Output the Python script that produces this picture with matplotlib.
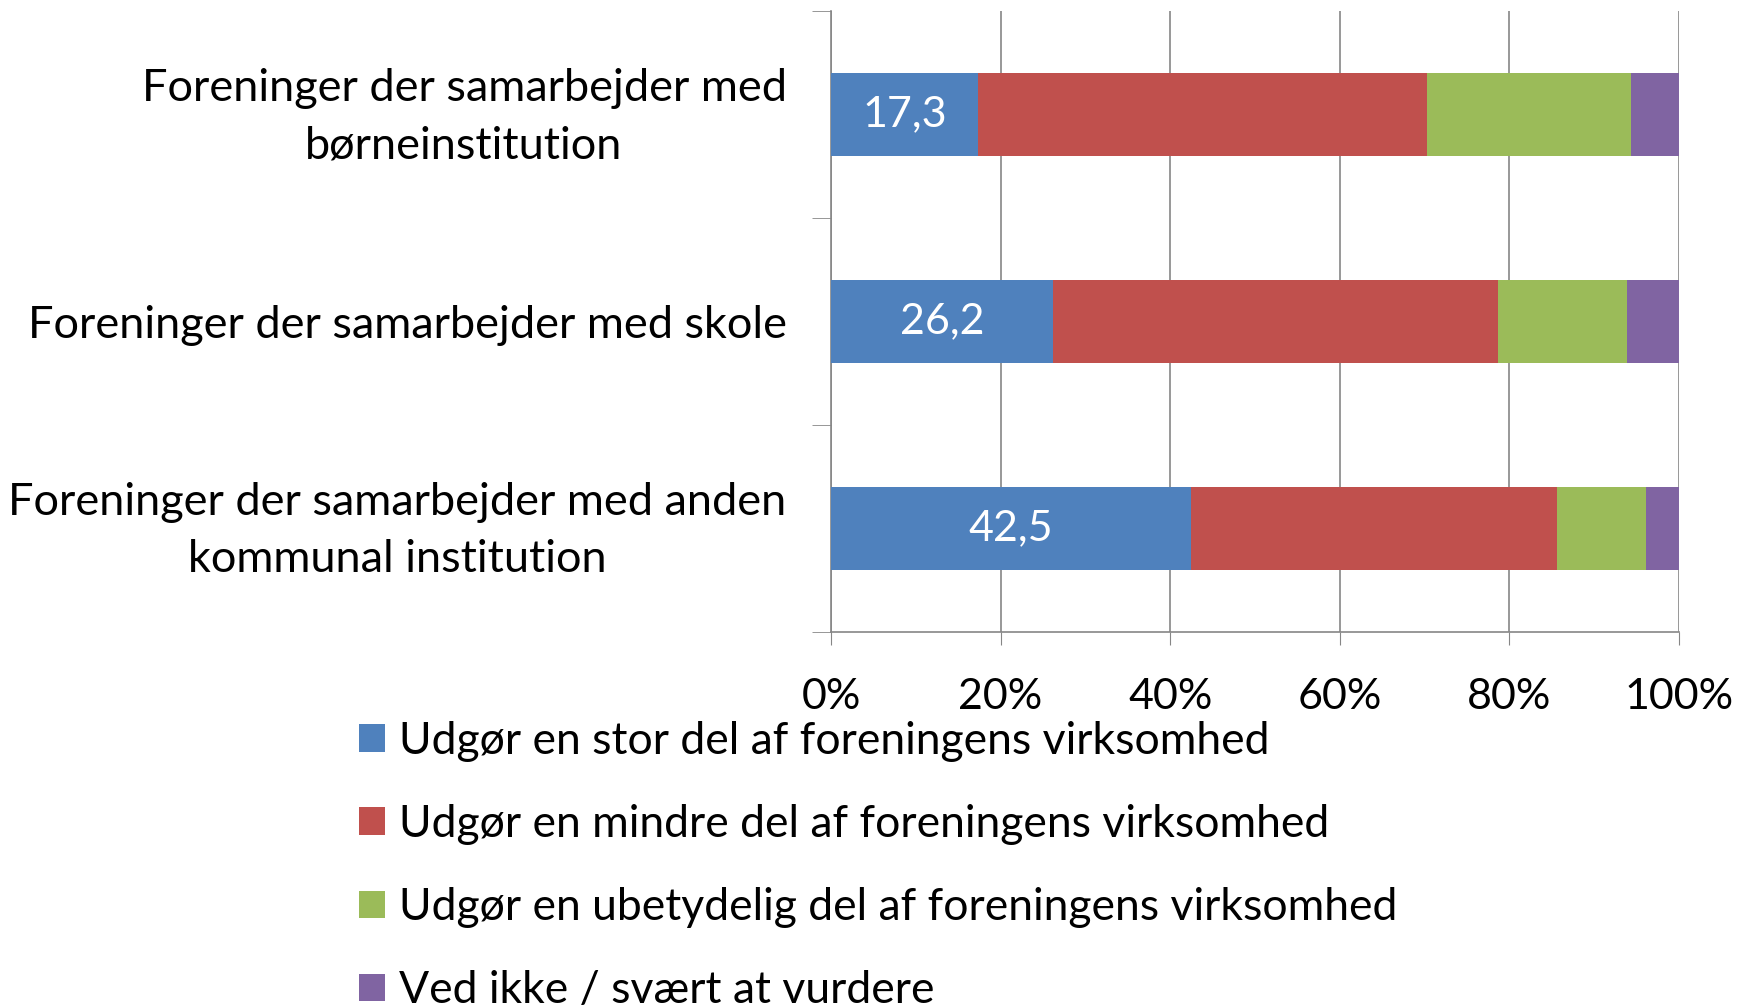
import matplotlib
matplotlib.use('Agg')
import matplotlib.pyplot as plt
from matplotlib.transforms import ScaledTranslation
import numpy as np

plt.rcParams['font.family'] = ['Lato', 'DejaVu Sans']

categories = ['Foreninger der samarbejder med\nbørneinstitution',
              'Foreninger der samarbejder med skole',
              'Foreninger der samarbejder med anden\nkommunal institution']
series = ['Udgør en stor del af foreningens virksomhed',
          'Udgør en mindre del af foreningens virksomhed',
          'Udgør en ubetydelig del af foreningens virksomhed',
          'Ved ikke / svært at vurdere']
stor = [17.3, 26.2, 42.5]
mindre = [53.0, 52.5, 43.1]
ubetydelig = [24.1, 15.2, 10.5]
ved_ikke = [5.6, 6.1, 3.9]
colors = ['#4F81BD', '#C0504D', '#9BBB59', '#8064A2']
xticks = [0, 20, 40, 60, 80, 100]

GRAY = '#868686'
FS = 32.5

fig = plt.figure(figsize=(17.52, 10.07), dpi=100)
ax = fig.add_axes([0.4743, 0.3724, 0.484, 0.6167])

y = np.arange(len(categories))
left = np.zeros(len(categories))
for vals, col, lab in zip([stor, mindre, ubetydelig, ved_ikke], colors, series):
  ax.barh(y, vals, left=left, height=0.4, color=col, label=lab, zorder=3)
  left += np.array(vals)

for yi, v in zip(y, stor):
  ax.text(v / 2, yi, f'{v:.1f}'.replace('.', ','), ha='center', va='center',
          color='white', fontsize=31, zorder=4)

ax.set_xlim(0, 100)
ax.set_ylim(2.5, -0.5)
ax.set_xticks(xticks)
ax.set_xticklabels([f'{t}%' for t in xticks], fontsize=31)
ax.tick_params(axis='x', direction='out', length=9, color=GRAY, pad=24)
ax.xaxis.grid(True, color=GRAY, lw=1.2, zorder=0)

ax.set_yticks(y)
ax.set_yticklabels(categories, fontsize=FS)
ax.set_yticks([-0.5, 0.5, 1.5, 2.5], minor=True)
ax.tick_params(axis='y', which='major', length=0, pad=32)
ax.tick_params(axis='y', which='minor', length=14, color=GRAY, direction='out')
for lbl in ax.get_yticklabels():
  lbl.set_multialignment('center')
  lbl.set_linespacing(1.5)
  if '\n' in lbl.get_text():
    # nudge two-line labels up so they sit centred on the bar
    lbl.set_transform(lbl.get_transform() +
                      ScaledTranslation(0, 7 / 72, fig.dpi_scale_trans))

for s in ['top', 'right']:
  ax.spines[s].set_visible(False)
for s in ['left', 'bottom']:
  ax.spines[s].set_color(GRAY)
  ax.spines[s].set_linewidth(1.2)

handles, labels = ax.get_legend_handles_labels()
fig.legend(handles, labels, loc='upper left', bbox_to_anchor=(0.195, 0.302),
           frameon=False, fontsize=32, handlelength=0.58, handleheight=0.58,
           handletextpad=0.32, labelspacing=0.95, borderaxespad=0)

fig.savefig('out.png', dpi=100)
